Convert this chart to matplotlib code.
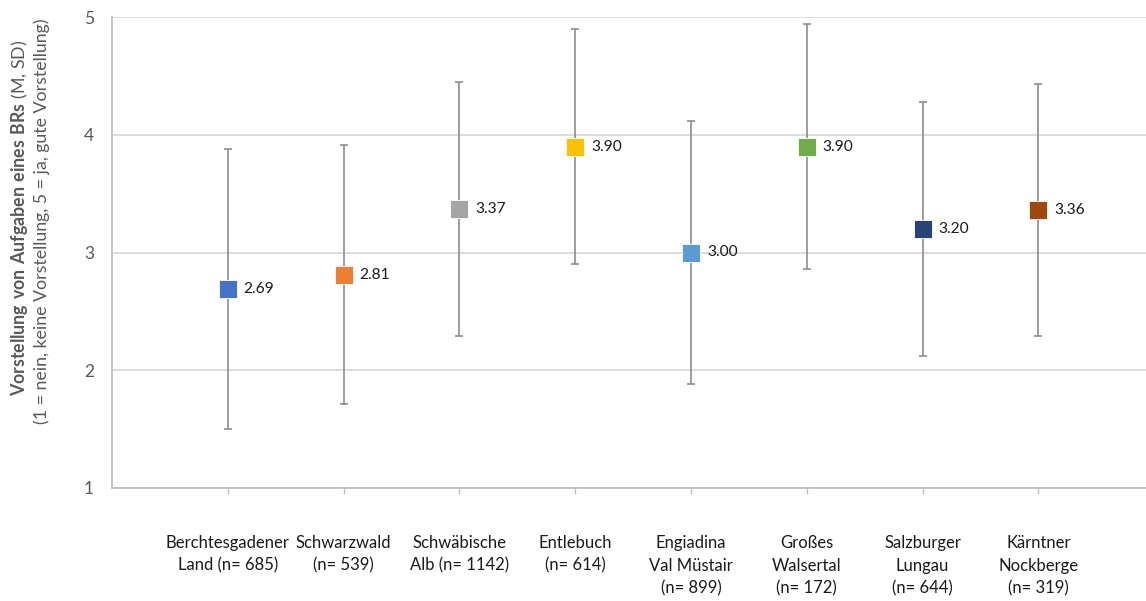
import numpy as np
import matplotlib
matplotlib.use('Agg')
import matplotlib.pyplot as plt

# Mittelwerte und Standardabweichungen je Biosphärenreservat
regions = ['Berchtesgadener\nLand (n= 685)', 'Schwarzwald\n(n= 539)',
           'Schwäbische\nAlb (n= 1142)', 'Entlebuch\n(n= 614)',
           'Engiadina\nVal Müstair\n(n= 899)', 'Großes\nWalsertal\n(n= 172)',
           'Salzburger\nLungau\n(n= 644)', 'Kärntner\nNockberge\n(n= 319)']
means = [2.69, 2.81, 3.37, 3.90, 3.00, 3.90, 3.20, 3.36]
sds = [1.19, 1.10, 1.08, 1.00, 1.12, 1.04, 1.08, 1.07]
colors = ['#4472C4', '#ED7D31', '#A5A5A5', '#FFC000',
          '#5B9BD5', '#70AD47', '#264478', '#9E480E']
yticks = [1, 2, 3, 4, 5]

plt.rcParams['font.family'] = ['Lato', 'DejaVu Sans']
plt.rcParams['mathtext.fontset'] = 'custom'
plt.rcParams['mathtext.rm'] = 'Lato'
plt.rcParams['mathtext.bf'] = 'Lato:bold'

W, H = 1146, 601
fig = plt.figure(figsize=(W / 100, H / 100), dpi=100)
ax = fig.add_axes([112 / W, 113 / H, (W - 112) / W, (488 - 17) / H])

x = np.arange(1, len(means) + 1)

for xi, m, s, c in zip(x, means, sds, colors):
    ax.errorbar(xi, m, yerr=s, fmt='none', ecolor='#8C8C8C', elinewidth=1.2,
                capsize=2.6, capthick=1.2, zorder=3)
    ax.plot(xi, m, marker='s', markersize=13.5, color=c,
            markeredgecolor='white', markeredgewidth=0.6, zorder=4)
    ax.annotate(f'{m:.2f}', (xi, m), xytext=(11.5, 0), textcoords='offset points',
                ha='left', va='center', fontsize=11.2, color='#1a1a1a', zorder=5)

ax.set_xlim(0, 8.93)
ax.set_ylim(1, 5)
ax.set_yticks(yticks)
ax.set_yticklabels([str(v) for v in yticks])
ax.set_xticks(x)
ax.set_xticklabels(regions)

ax.grid(axis='y', color='#D9D9D9', linewidth=1.3)
ax.set_axisbelow(True)
for side in ['top', 'right']:
    ax.spines[side].set_visible(False)
for side in ['left', 'bottom']:
    ax.spines[side].set_color('#BFBFBF')
    ax.spines[side].set_linewidth(1.3)

ax.tick_params(axis='y', length=0, pad=13, labelsize=12.5, labelcolor='#595959')
ax.tick_params(axis='x', length=4, width=1, color='#BFBFBF', pad=30,
               labelsize=12.0, labelcolor='#1a1a1a')
for lab in ax.get_xticklabels():
    lab.set_linespacing(1.5)

# zweizeilige Achsenbeschriftung, erste Zeile teilweise fett
fig.text(20 / W, 1 - 218 / H,
         r'$\mathbf{Vorstellung\ von\ Aufgaben\ eines\ BRs}$ (M, SD)',
         rotation=90, ha='center', va='center', fontsize=12.8, color='#595959')
fig.text(42 / W, 1 - 221 / H,
         '(1 = nein, keine Vorstellung, 5 = ja, gute Vorstellung)',
         rotation=90, ha='center', va='center', fontsize=12.8, color='#595959')

fig.savefig('out.png', dpi=100)
